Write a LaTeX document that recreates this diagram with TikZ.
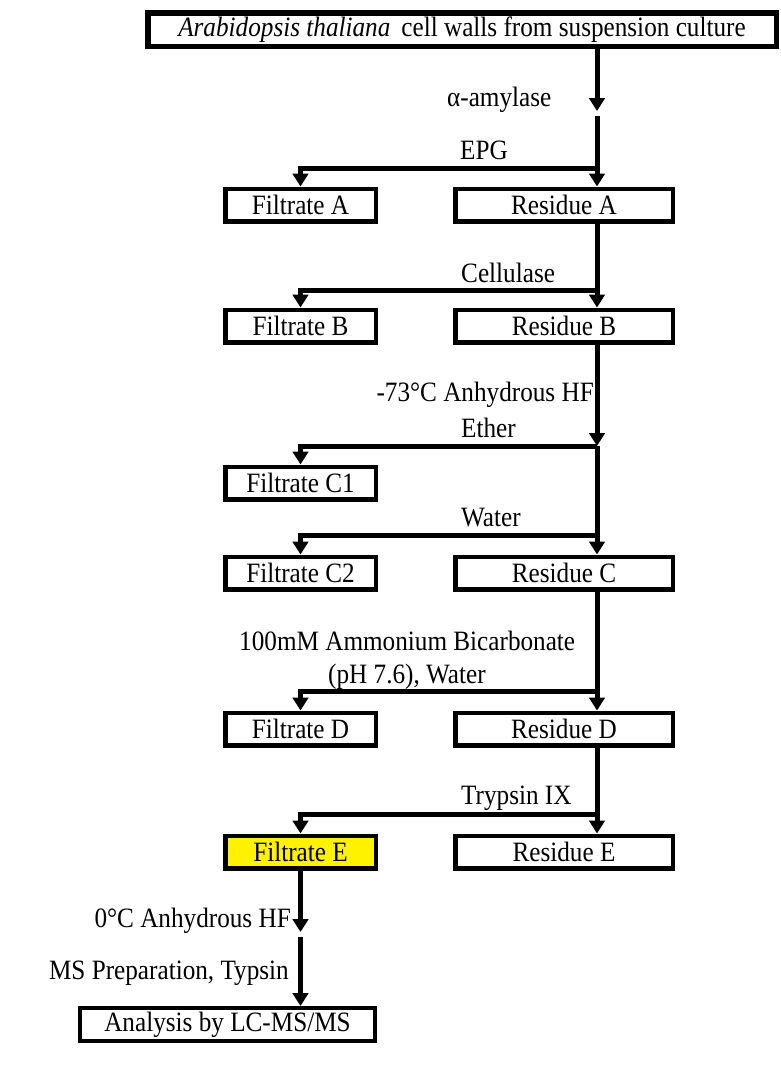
\documentclass[tikz,border=0pt]{standalone}
\usepackage{fontspec}
\setmainfont[FakeStretch=0.9]{Liberation Serif}
\usetikzlibrary{arrows.meta}

\tikzset{
  frac box/.style={rectangle, draw=black, line width=4.5pt, inner sep=0pt, minimum height=32.5pt, font=\fontsize{28}{32}\selectfont},
  fracfiltrate/.style={frac box, minimum width=150.5pt},
  fracresidue/.style={frac box, minimum width=217.5pt},
  fractitle/.style={frac box, line width=5.5pt, minimum width=628.5pt, minimum height=33.5pt},
  fracresult/.style={frac box, line width=4pt, minimum width=295pt, minimum height=33pt},
  frac flow/.style={->, draw=black, line width=5pt},
  frac note/.style={inner sep=0pt, font=\fontsize{28}{32}\selectfont},
}

\begin{document}
\begin{tikzpicture}[x=1pt, y=-1pt, >={Triangle[width=15.5pt,length=13pt]}, node distance=263.5pt]
    \useasboundingbox (0,0) rectangle (781,1072);
    % boxes
    \node (wall) [fractitle] at (462,29.5) {\textit{Arabidopsis thaliana}\, cell walls from suspension culture};
    \node (resA) [fracresidue] at (564,205) {Residue A};
    \node (filA) [fracfiltrate, left of=resA] {Filtrate A};
    \node (resB) [fracresidue] at (564,326) {Residue B};
    \node (filB) [fracfiltrate, left of=resB] {Filtrate B};
    \node (filC1) [fracfiltrate] at (300.5,483) {Filtrate C1};
    \node (resC) [fracresidue] at (564,573) {Residue C};
    \node (filC2) [fracfiltrate, left of=resC] {Filtrate C2};
    \node (resD) [fracresidue] at (564,729) {Residue D};
    \node (filD) [fracfiltrate, left of=resD] {Filtrate D};
    \node (resE) [fracresidue] at (564,852) {Residue E};
    \node (filE) [fracfiltrate, left of=resE, fill=yellow] {Filtrate E};
    \node (lcms) [fracresult] at (227.5,1024.5) {Analysis by LC-MS/MS};
    % treatment labels
    \node (amyl) [frac note, anchor=west] at (447,100) {α-amylase};
    \node (epg) [frac note, anchor=west] at (460,150) {EPG};
    \node (cell) [frac note, anchor=west] at (461,273) {Cellulase};
    \node (hfcold) [frac note, anchor=east] at (594,395) {-73°C Anhydrous HF};
    \node (ether) [frac note, anchor=west] at (461,428) {Ether};
    \node (water) [frac note, anchor=west] at (461,518) {Water};
    \node (ambic) [frac note, anchor=west] at (239,641) {100mM Ammonium Bicarbonate};
    \node (ambicw) [frac note, anchor=west] at (328,677) {(pH 7.6), Water};
    \node (tryp) [frac note, anchor=west] at (461,798) {Trypsin IX};
    \node (hfzero) [frac note, anchor=east] at (291,921) {0°C Anhydrous HF};
    \node (msprep) [frac note, anchor=east] at (289,973) {MS Preparation, Typsin};
    % trunk and branch points
    \coordinate (trunk) at (597,0);
    \coordinate (tipA) at (597,111);
    \coordinate (goA) at (597,116);
    \coordinate (jA) at (597,168);
    \coordinate (jB) at (597,290);
    \coordinate (jC1) at (597,446);
    \coordinate (jC2) at (597,535);
    \coordinate (jD) at (597,691);
    \coordinate (jE) at (597,814);
    \coordinate (tipF) at (300.5,932);
    \coordinate (goF) at (300.5,937);
    % flows
    \draw[frac flow] (wall.south -| trunk) -- (tipA);
    \draw[frac flow] (goA) -- (resA.north -| trunk);
    \draw[frac flow] (jA) -| (filA.north);
    \draw[frac flow] (resA.south -| trunk) -- (resB.north -| trunk);
    \draw[frac flow] (jB) -| (filB.north);
    \draw[frac flow] (resB.south -| trunk) -- (jC1);
    \draw[frac flow] (jC1) -| (filC1.north);
    \draw[frac flow] (jC1) -- (resC.north -| trunk);
    \draw[frac flow] (jC2) -| (filC2.north);
    \draw[frac flow] (resC.south -| trunk) -- (resD.north -| trunk);
    \draw[frac flow] (jD) -| (filD.north);
    \draw[frac flow] (resD.south -| trunk) -- (resE.north -| trunk);
    \draw[frac flow] (jE) -| (filE.north);
    \draw[frac flow] (filE.south) -- (tipF);
    \draw[frac flow] (goF) -- (lcms.north -| goF);
\end{tikzpicture}
\end{document}
